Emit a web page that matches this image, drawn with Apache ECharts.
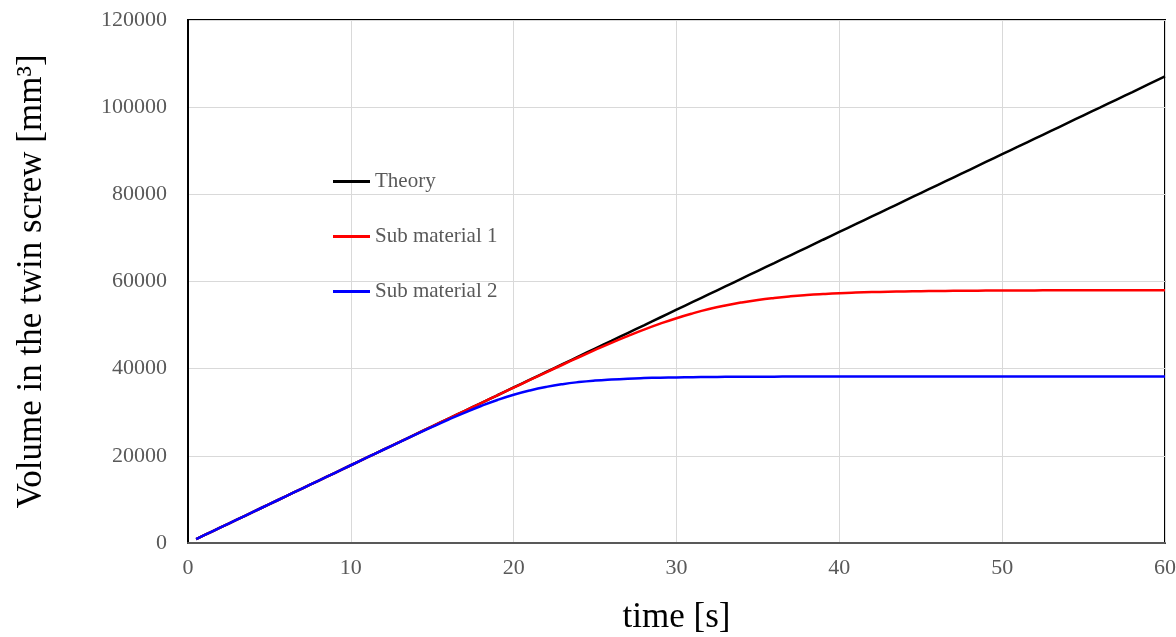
<!DOCTYPE html>
<html>
<head>
<meta charset="utf-8">
<script src="https://cdn.jsdelivr.net/npm/echarts@6/dist/echarts.min.js"></script>
<style>html,body{margin:0;padding:0;background:#fff}#c{width:1176px;height:637px}</style>
</head>
<body>
<div id="c"></div>
<script>
const time = [0.5,1,2,3,4,5,6,7,8,9,10,11,12,13,14,15,16,17,18,19,20,21,22,23,24,25,26,27,28,29,30,31,32,33,34,35,36,37,38,39,40,41,42,43,44,45,46,47,48,49,50,51,52,53,54,55,56,57,58,59,60];
const theory = [890,1780,3570,5350,7140,8920,10700,12490,14270,16060,17840,19620,21410,23190,24980,26760,28540,30330,32110,33900,35680,37460,39250,41030,42820,44600,46380,48170,49950,51740,53520,55300,57090,58870,60660,62440,64220,66010,67790,69580,71360,73140,74930,76710,78500,80280,82060,83850,85630,87420,89200,90980,92770,94550,96340,98120,99900,101690,103470,105260,107040];
const sub1 = [890,1780,3570,5350,7140,8920,10700,12490,14270,16060,17840,19620,21410,23190,24980,26760,28540,30330,32110,33890,35650,37420,39170,40900,42620,44290,45920,47470,48950,50320,51580,52690,53670,54500,55200,55780,56240,56610,56900,57130,57320,57460,57570,57660,57730,57780,57830,57860,57890,57920,57940,57950,57960,57970,57975,57980,57985,57988,57990,57992,57994];
const sub2 = [890,1780,3570,5350,7140,8920,10700,12490,14270,16060,17840,19620,21395,23160,24920,26640,28320,29930,31440,32810,34010,35010,35820,36450,36920,37270,37520,37710,37840,37930,38000,38050,38095,38120,38140,38160,38170,38178,38184,38188,38191,38194,38196,38197,38198,38199,38200,38200,38200,38200,38200,38200,38200,38200,38200,38200,38200,38200,38200,38200,38200];
const seriesNames = ['Theory','Sub material 1','Sub material 2'];
const seriesColors = ['#000000','#ff0000','#0000ff'];
const seriesData = [theory, sub1, sub2];

const font = '"Liberation Serif", "Times New Roman", serif';
const chart = echarts.init(document.getElementById('c'), null, {renderer:'canvas'});
chart.setOption({
  animation:false,
  backgroundColor:'#fff',
  grid:{left:188,top:20,right:11,bottom:94,containLabel:false,outerBoundsMode:'none',show:true,borderColor:'#000',borderWidth:2,backgroundColor:'transparent'},
  legend:{
    orient:'vertical', left:333, top:171, padding:0, itemGap:34, itemWidth:37, itemHeight:3,
    icon:'rect',
    textStyle:{fontFamily:font,fontSize:21,color:'#595959'},
    data:seriesNames
  },
  xAxis:{
    type:'value', min:0, max:60, interval:10,
    name:'time [s]', nameLocation:'middle', nameGap:57,
    nameTextStyle:{fontFamily:font,fontSize:35,color:'#000'},
    axisLine:{show:true,lineStyle:{color:'#595959',width:2}},
    axisTick:{show:false},
    axisLabel:{fontFamily:font,fontSize:22,color:'#595959',margin:14},
    splitLine:{show:true,lineStyle:{color:'#d9d9d9',width:1}}
  },
  yAxis:{
    type:'value', min:0, max:120000, interval:20000,
    name:'Volume in the twin screw [mm³]', nameLocation:'middle', nameGap:139,
    nameTextStyle:{fontFamily:font,fontSize:35,color:'#000'},
    axisLine:{show:true,lineStyle:{color:'#000',width:2}},
    axisTick:{show:false},
    axisLabel:{fontFamily:font,fontSize:22,color:'#595959',margin:21,formatter:v=>String(v)},
    splitLine:{show:true,lineStyle:{color:'#d9d9d9',width:1}}
  },
  series: seriesNames.map((n,i)=>({
    name:n, type:'line', showSymbol:false, symbol:'none', smooth:true,
    data: time.map((t,j)=>[t, seriesData[i][j]]),
    lineStyle:{color:seriesColors[i],width:2.5},
    itemStyle:{color:seriesColors[i]}
  }))
});
</script>
</body>
</html>
